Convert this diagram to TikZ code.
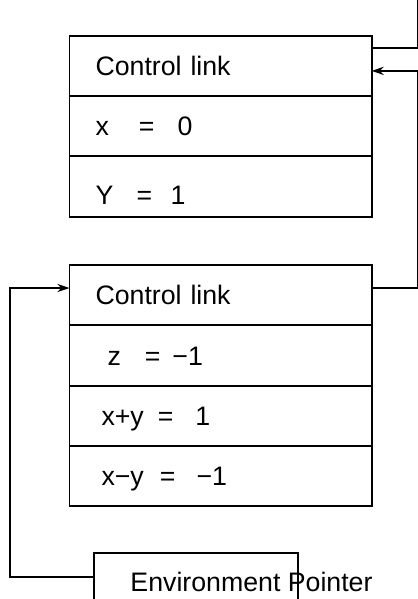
\documentclass[tikz,border=0pt]{standalone}
\usepackage{fontspec}
\setmainfont{Liberation Sans}
\usetikzlibrary{arrows.meta,positioning}

\begin{document}
\begin{tikzpicture}
        [x=0.025cm, y=-0.025cm, line width=1.4pt,
        % Styles
        cell/.style={draw, outer sep=0pt, minimum width=7.55cm, minimum height=1.5075cm,
                text width=6.25cm, inner xsep=0.65cm, inner ysep=0pt, align=left,
                text height=0.48cm, text depth=0cm, font=\fontsize{19}{21}\selectfont},
        link/.style={-{Stealth[length=0.3cm, width=0.2cm]}}]

        \useasboundingbox (0, 0) rectangle (418, 599);

        % Upper frame
        \node[cell, anchor=north west] (ctl1) at (69.5, 35.7) {Control link};
        \node[cell, below=0pt of ctl1] (xval) {x\hspace{0.75cm}=\hspace{0.58cm}0};
        \node[cell, below=0pt of xval] (yval) {\raisebox{-0.2cm}{Y\hspace{0.58cm}=\hspace{0.46cm}1}};

        % Lower frame
        \node[cell, anchor=north west] (ctl2) at (69.5, 265) {Control link};
        \node[cell, below=0pt of ctl2] (zval) {\hspace*{0.3cm}z\hspace{0.6cm}=\hspace{0.3cm}−1};
        \node[cell, below=0pt of zval] (sum) {\hspace*{0.15cm}x+y\hspace{0.35cm}=\hspace{0.55cm}1};
        \node[cell, below=0pt of sum] (diff) {\hspace*{0.15cm}x−y\hspace{0.4cm}=\hspace{0.53cm}−1};

        % Environment pointer
        \node[draw, outer sep=0pt, anchor=north west, minimum width=5.09cm, minimum height=1.2cm]
                (envbox) at (94, 553) {};
        \node[font=\fontsize{19}{21}\selectfont] (envtext) at (251.5, 582) {Environment Pointer};

        % Control links, leaving at the right edge
        \coordinate (top) at (418, 0);
        \coordinate (left) at (10, 0);
        \coordinate (out1) at ([yshift=-0.31cm]ctl1.north east);
        \coordinate (in1) at ([yshift=-0.88cm]ctl1.north east);
        \coordinate (out2) at ([yshift=-0.575cm]ctl2.north east);
        \coordinate (in2) at ([yshift=-0.575cm]ctl2.north west);
        \coordinate (turn) at (in1 -| top);

        \draw (out1) -| (top);
        \draw[link] (out2) -| (turn) -- (in1);
        \draw[link] (envbox.west) -| (left |- in2) -- (in2);
\end{tikzpicture}
\end{document}
